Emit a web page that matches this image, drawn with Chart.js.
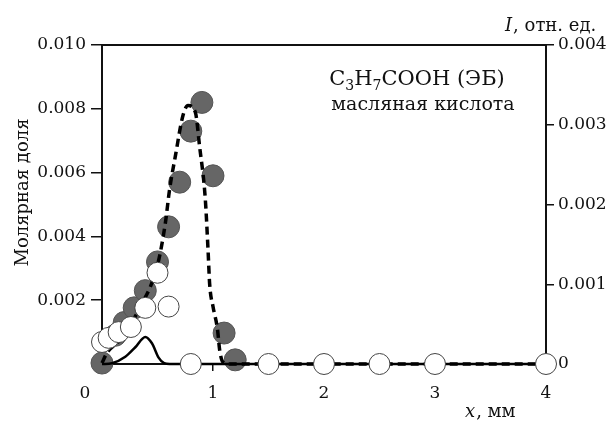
<!DOCTYPE html>
<html>
<head>
<meta charset="utf-8">
<script src="https://cdn.jsdelivr.net/npm/chart.js@4"></script>
<style>
  html, body { margin: 0; padding: 0; background: #fff; }
  #wrap { width: 614px; height: 421px; }
</style>
</head>
<body>
<div id="wrap"><canvas id="grafico"></canvas></div>
<script>
// dati letti dal grafico
// punti pieni (frazione molare, asse sinistro)
var xPieni = [0, 0.12, 0.2, 0.29, 0.39, 0.5, 0.6, 0.7, 0.8, 0.9, 1.0, 1.1, 1.2];
var yPieni = [0.00003, 0.0009, 0.0013, 0.00176, 0.0023, 0.0032, 0.0043, 0.0057, 0.0073, 0.0082, 0.0059, 0.00097, 0.00013];
// punti vuoti (asse sinistro)
var xVuoti = [0, 0.06, 0.15, 0.26, 0.39, 0.5, 0.6, 0.8, 1.5, 2.0, 2.5, 3.0, 4.0];
var yVuoti = [0.00069, 0.00082, 0.001, 0.00116, 0.00176, 0.00286, 0.0018, 0, 0, 0, 0, 0, 0];
// curva tratteggiata (modello, asse sinistro)
var xTratt = [0, 0.045, 0.16, 0.34, 0.5, 0.57, 0.61, 0.66, 0.73, 0.775, 0.84, 0.88, 0.93, 0.955, 0.97, 1.0, 1.04, 1.06, 1.09, 1.15, 4];
var yTratt = [0.00003, 0.00035, 0.00075, 0.00176, 0.0031, 0.0044, 0.0055, 0.0065, 0.0078, 0.0081, 0.0079, 0.0068, 0.0052, 0.0036, 0.0025, 0.0018, 0.0011, 0.00044, 0.00006, 0, 0];
// curva continua (I, asse destro)
var xCont = [0, 0.09, 0.21, 0.3, 0.39, 0.45, 0.51, 0.56, 0.61, 4];
var yCont = [0, 0.00001, 0.00009, 0.00021, 0.00034, 0.00026, 0.00008, 0.00001, 0, 0];
// tacche
var tickSinistra = [0.002, 0.004, 0.006, 0.008, 0.010];
var tickDestra = [0, 0.001, 0.002, 0.003, 0.004];
var tickX = [0, 1, 2, 3, 4];

var serif = "'DejaVu Serif', 'Liberation Serif', serif";

function punti(xs, ys) {
  return xs.map(function(x, i) { return { x: x, y: ys[i] }; });
}

// testi aggiuntivi: titoli assi e nota
var testi = {
  id: 'testi',
  afterDraw: function(chart) {
    var ctx = chart.ctx;
    var sx = chart.scales.x;
    var area = chart.chartArea;
    ctx.save();
    ctx.fillStyle = '#111';
    ctx.textBaseline = 'alphabetic';
    // "0" all'origine
    ctx.font = '17px ' + serif;
    ctx.textAlign = 'center';
    ctx.fillText('0', sx.getPixelForValue(0) - 17, 398);
    // titolo asse y sinistro
    ctx.save();
    ctx.translate(28, (area.top + area.bottom) / 2 - 12);
    ctx.rotate(-Math.PI / 2);
    ctx.textAlign = 'center';
    ctx.font = '18px ' + serif;
    ctx.fillText('Молярная доля', 0, 0);
    ctx.restore();
    // titolo asse destro
    ctx.textAlign = 'left';
    ctx.font = 'italic 18px ' + serif;
    ctx.fillText('I', 505, 31);
    var w = ctx.measureText('I').width;
    ctx.font = '18px ' + serif;
    ctx.fillText(', отн. ед.', 505 + w + 1, 31);
    // titolo asse x
    ctx.font = 'italic 18px ' + serif;
    ctx.fillText('x', 465, 417);
    w = ctx.measureText('x').width;
    ctx.font = '18px ' + serif;
    ctx.fillText(', мм', 465 + w + 1, 417);
    // nota: formula
    var parti = [['C', 0], ['3', 1], ['H', 0], ['7', 1], ['COOH (ЭБ)', 0]];
    var tot = 0;
    parti.forEach(function(p) {
      ctx.font = (p[1] ? '14px ' : '21px ') + serif;
      tot += ctx.measureText(p[0]).width;
    });
    var cx = 417 - tot / 2;
    parti.forEach(function(p) {
      ctx.font = (p[1] ? '14px ' : '21px ') + serif;
      ctx.fillText(p[0], cx, p[1] ? 90 : 85);
      cx += ctx.measureText(p[0]).width;
    });
    ctx.textAlign = 'center';
    ctx.font = '19px ' + serif;
    ctx.fillText('масляная кислота', 423, 110);
    // linea superiore del riquadro
    ctx.strokeStyle = '#111';
    ctx.lineWidth = 2;
    ctx.beginPath();
    ctx.moveTo(area.left, area.top);
    ctx.lineTo(area.right, area.top);
    ctx.stroke();
    ctx.restore();
  }
};

var ctx = document.getElementById('grafico');
var chart = new Chart(ctx, {
  type: 'scatter',
  data: {
    datasets: [
      {
        label: 'pieni',
        data: punti(xPieni, yPieni),
        yAxisID: 'y',
        backgroundColor: '#666',
        borderColor: '#555',
        borderWidth: 1,
        pointRadius: 11,
        order: 4,
        clip: false
      },
      {
        label: 'modello',
        data: punti(xTratt, yTratt),
        yAxisID: 'y',
        showLine: true,
        borderColor: '#000',
        borderWidth: 3.5,
        borderDash: [8, 5],
        pointRadius: 0,
        cubicInterpolationMode: 'monotone',
        order: 3,
        clip: false
      },
      {
        label: 'I',
        data: punti(xCont, yCont),
        yAxisID: 'y2',
        showLine: true,
        borderColor: '#000',
        borderWidth: 2.5,
        pointRadius: 0,
        cubicInterpolationMode: 'monotone',
        order: 2,
        clip: false
      },
      {
        label: 'vuoti',
        data: punti(xVuoti, yVuoti),
        yAxisID: 'y',
        backgroundColor: '#fff',
        borderColor: '#444',
        borderWidth: 1,
        pointRadius: 10.5,
        order: 1,
        clip: false
      }
    ]
  },
  options: {
    responsive: true,
    maintainAspectRatio: false,
    animation: false,
    layout: { padding: { top: 45, left: 0, right: 0, bottom: 0 } },
    plugins: {
      legend: { display: false },
      tooltip: { enabled: false }
    },
    scales: {
      x: {
        type: 'linear',
        min: 0,
        max: 4,
        afterFit: function(s) { s.height = 57; },
        afterBuildTicks: function(s) { s.ticks = tickX.map(function(v) { return { value: v }; }); },
        border: { display: true, color: '#111', width: 2 },
        grid: { drawOnChartArea: false, drawTicks: true, tickLength: 7, color: '#111', lineWidth: 1.5 },
        ticks: {
          padding: 12,
          color: '#111',
          font: { family: serif, size: 17 },
          callback: function(v) { return v === 0 ? '' : String(v); }
        }
      },
      y: {
        position: 'left',
        min: 0,
        max: 0.01,
        afterFit: function(s) { s.width = 102; },
        afterBuildTicks: function(s) { s.ticks = tickSinistra.map(function(v) { return { value: v }; }); },
        border: { display: true, color: '#111', width: 2 },
        grid: { drawOnChartArea: false, drawTicks: true, tickLength: 11, color: '#111', lineWidth: 1.5 },
        ticks: {
          padding: 5,
          color: '#111',
          font: { family: serif, size: 17 },
          callback: function(v) { return v.toFixed(3); }
        }
      },
      y2: {
        position: 'right',
        min: 0,
        max: 0.004,
        afterFit: function(s) { s.width = 68; },
        afterBuildTicks: function(s) { s.ticks = tickDestra.map(function(v) { return { value: v }; }); },
        border: { display: true, color: '#111', width: 2 },
        grid: { drawOnChartArea: false, drawTicks: true, tickLength: 8, color: '#111', lineWidth: 1.5 },
        ticks: {
          padding: 4,
          color: '#111',
          font: { family: serif, size: 17 },
          callback: function(v) { return v === 0 ? '0' : v.toFixed(3); }
        }
      }
    }
  },
  plugins: [testi]
});
</script>
</body>
</html>
